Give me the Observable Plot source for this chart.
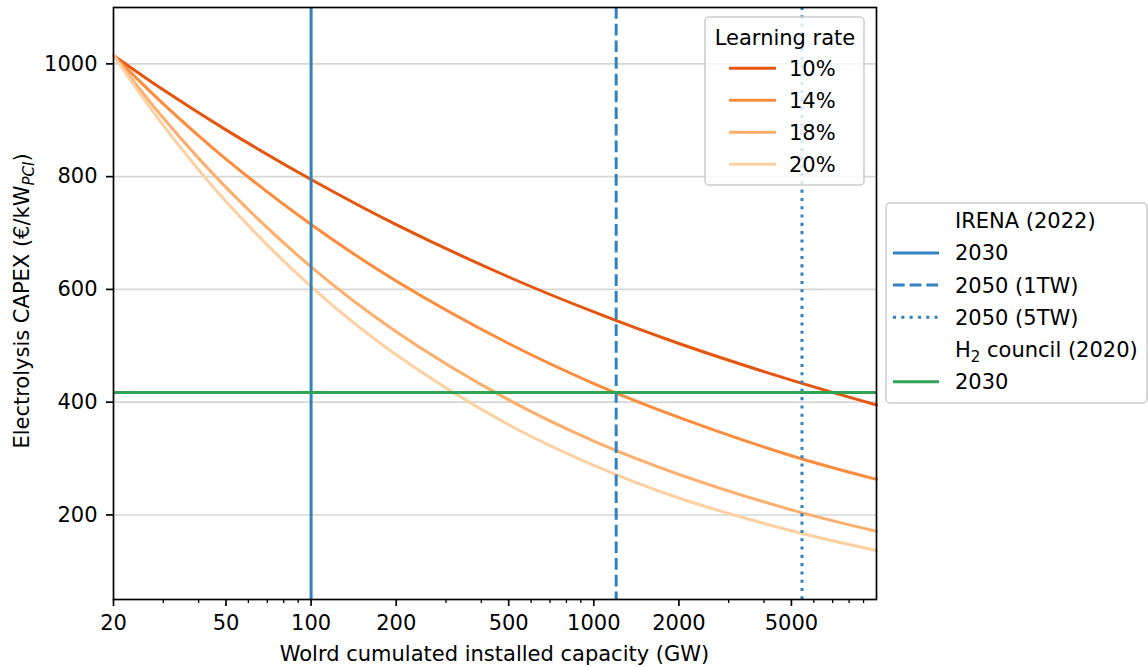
<!DOCTYPE html>
<html><head><meta charset="utf-8">
<script src="https://cdn.jsdelivr.net/npm/d3@7"></script>
<script src="https://cdn.jsdelivr.net/npm/@observablehq/plot@0.6"></script>
<style>
body{margin:0;background:#fff;font-family:"DejaVu Sans",sans-serif;}
#wrap{position:relative;width:1148px;height:667px;}
</style></head><body><div id="wrap"></div>
<script>
// ---- data ----
const capacityGW = [20, 30, 50, 100, 200, 500, 1000, 2000, 5000, 10000];
const lr10 = [1015, 954, 883, 795, 715, 622, 560, 504, 439, 395];
const lr14 = [1015, 929, 831, 715, 615, 504, 433, 373, 305, 263];
const lr18 = [1015, 904, 781, 640, 525, 404, 331, 272, 209, 171];
const lr20 = [1015, 891, 756, 605, 484, 360, 288, 230, 172, 137];
const lrLabels = ["10%", "14%", "18%", "20%"];
const lrColors = ["#e6550d", "#fd8d3c", "#fdae6b", "#fdd0a2"];

const irena2030 = 100;
const irena2050_1TW = 1200;
const irena2050_5TW = 5450;
const h2council2030 = 417;

const xMajorTicks = [20, 50, 100, 200, 500, 1000, 2000, 5000];
const xMinorTicks = [30, 40, 60, 70, 80, 90, 300, 400, 600, 700, 800, 900, 3000, 4000, 6000, 7000, 8000, 9000];
const yTicks = [200, 400, 600, 800, 1000];

const blue = "#3182bd", green = "#31a354";
const FS = 21;

const seriesValues = [lr10, lr14, lr18, lr20];
const data = [];
seriesValues.forEach((vals, s) => capacityGW.forEach((x, i) => data.push({x, y: vals[i], lr: lrLabels[s]})));

const chart = Plot.plot({
  width: 1148, height: 667,
  marginLeft: 113, marginRight: 272, marginTop: 7, marginBottom: 68,
  style: {fontFamily: "DejaVu Sans", fontSize: FS + "px", background: "white", color: "black"},
  x: {type: "log", domain: [20, 10000]},
  y: {domain: [50, 1100]},
  color: {domain: lrLabels, range: lrColors},
  marks: [
    Plot.gridY(yTicks, {stroke: "#b0b0b0", strokeOpacity: 0.5, strokeWidth: 1.6}),
    Plot.line(data, {x: "x", y: "y", z: "lr", stroke: "lr", strokeWidth: 3, curve: "catmull-rom"}),
    Plot.ruleX([irena2030], {stroke: blue, strokeWidth: 3}),
    Plot.ruleX([irena2050_1TW], {stroke: blue, strokeWidth: 3, strokeDasharray: "11.7,5"}),
    Plot.ruleX([irena2050_5TW], {stroke: blue, strokeWidth: 3, strokeDasharray: "3.1,5.2"}),
    Plot.ruleY([h2council2030], {stroke: green, strokeWidth: 3}),
    Plot.frame({stroke: "black", strokeWidth: 1.7}),
    Plot.axisX(xMajorTicks, {tickFormat: () => "", tickSize: 7, strokeWidth: 1.7, label: null}),
    Plot.text(xMajorTicks, {x: d => d, text: d => String(d), frameAnchor: "bottom", lineAnchor: "top", dy: 16, fontSize: FS, fill: "black"}),
    Plot.axisX(xMinorTicks, {tickFormat: () => "", tickSize: 4, strokeWidth: 1.3, label: null}),
    Plot.axisY(yTicks, {tickFormat: d => String(d), tickSize: 7, tickPadding: 9, strokeWidth: 1.7, fontSize: FS, label: null})
  ]
});
document.getElementById("wrap").appendChild(chart);

const svg = d3.select(chart);

// axis labels
svg.append("text").attr("x", 494.5).attr("y", 661).attr("text-anchor", "middle")
  .attr("font-size", FS).attr("fill", "black").text("Wolrd cumulated installed capacity (GW)");
const yl = svg.append("text").attr("transform", "translate(29,301) rotate(-90)")
  .attr("text-anchor", "middle").attr("font-size", FS).attr("fill", "black");
yl.append("tspan").text("Electrolysis CAPEX (€/kW");
yl.append("tspan").attr("font-style", "italic").attr("font-size", 15).attr("dy", 5).text("PCI");
yl.append("tspan").attr("dy", -5).text(")");

// legend 1 (learning rate)
const lg1 = svg.append("g").attr("font-size", FS).attr("fill", "black").attr("text-anchor", "start");
lg1.append("rect").attr("x", 705).attr("y", 17).attr("width", 159).attr("height", 168).attr("rx", 4)
  .attr("fill", "white").attr("fill-opacity", 0.8).attr("stroke", "#cccccc").attr("stroke-width", 1.5);
lg1.append("text").attr("x", 785).attr("y", 37).attr("dy", "0.36em").attr("text-anchor", "middle").text("Learning rate");
lrLabels.forEach((lab, i) => {
  const y = 68.3 + i * 32;
  lg1.append("line").attr("x1", 729).attr("x2", 776).attr("y1", y).attr("y2", y)
    .attr("stroke", lrColors[i]).attr("stroke-width", 3);
  lg1.append("text").attr("x", 789).attr("y", y).attr("dy", "0.36em").attr("text-anchor", "start").text(lab);
});

// legend 2 (references)
const refItems = [
  {label: "IRENA (2022)", header: true},
  {label: "2030", color: blue, dash: null},
  {label: "2050 (1TW)", color: blue, dash: "11.7,5"},
  {label: "2050 (5TW)", color: blue, dash: "3.1,5.2"},
  {label: "H2 council (2020)", header: true, h2: true},
  {label: "2030", color: green, dash: null}
];
const lg2 = svg.append("g").attr("font-size", FS).attr("fill", "black").attr("text-anchor", "start");
lg2.append("rect").attr("x", 886).attr("y", 203).attr("width", 261).attr("height", 200).attr("rx", 4)
  .attr("fill", "white").attr("fill-opacity", 0.8).attr("stroke", "#cccccc").attr("stroke-width", 1.5);
refItems.forEach((it, i) => {
  const y = 220.7 + i * 32.2;
  if (!it.header) {
    const ln = lg2.append("line").attr("x1", 893).attr("x2", 939).attr("y1", y).attr("y2", y)
      .attr("stroke", it.color).attr("stroke-width", 3);
    if (it.dash) ln.attr("stroke-dasharray", it.dash);
  }
  const t = lg2.append("text").attr("x", 955).attr("y", y).attr("dy", "0.36em").attr("text-anchor", "start");
  if (it.h2) {
    t.append("tspan").text("H");
    t.append("tspan").attr("font-size", 15).attr("dy", 5).text("2");
    t.append("tspan").attr("dy", -5).text(" council (2020)");
  } else t.text(it.label);
});
</script></body></html>
